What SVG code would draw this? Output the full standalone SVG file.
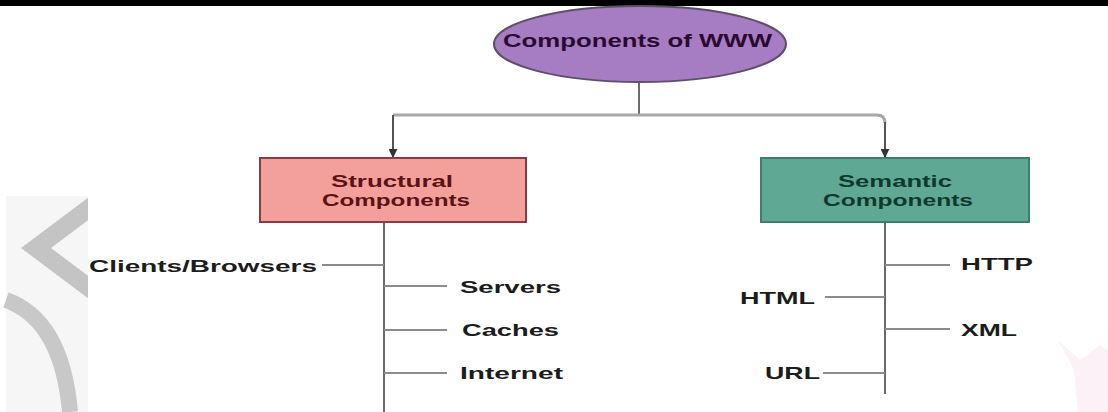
<svg xmlns="http://www.w3.org/2000/svg" width="1108" height="412" viewBox="0 0 1108 412">
<defs>
<style>
text{font-family:"Liberation Sans",Arial,sans-serif;font-weight:bold;}
.lbl{font-size:17px;fill:#1c1c1c;}
.box{font-size:16px;}
.trunk{stroke:#6a6a6a;stroke-width:2;fill:none;}
.br{stroke:#8c8c8c;stroke-width:2;fill:none;}
.top{stroke:#a8a8a8;stroke-width:3;fill:none;}
.arr{stroke:#555;stroke-width:2;fill:none;}
</style>
<marker id="ah" viewBox="0 0 10 10" refX="9" refY="5" markerWidth="9" markerHeight="9" markerUnits="userSpaceOnUse" orient="auto">
<path d="M0,0 L10,5 L0,10 Z" fill="#333"/>
</marker>
<clipPath id="wm"><rect x="0" y="190" width="88" height="222"/></clipPath>
</defs>
<rect x="0" y="0" width="1108" height="412" fill="#ffffff"/>
<g id="watermark">
<rect x="6" y="196" width="82" height="216" fill="#f6f6f6"/>
<g clip-path="url(#wm)">
<polyline points="100,200 36,248 100,296" fill="none" stroke="#c4c4c4" stroke-width="18"/>
<path d="M6,300 Q62,320 70,412" fill="none" stroke="#c8c8c8" stroke-width="16"/>
</g>
<path d="M1058,340 L1080,360 L1100,345 L1108,350 L1108,412 L1078,412 L1074,370 Z" fill="#fbf1f7"/>
</g>
<rect x="0" y="0" width="1108" height="6" fill="#000"/>
<g id="connectors">
<path class="trunk" d="M639,82 V115"/>
<path class="top" d="M639,115 H393"/>
<path class="top" d="M639,115 H877 Q885,115 885,123"/>
<path class="arr" d="M393,115 V157" marker-end="url(#ah)"/>
<path class="arr" d="M885,122 V157" marker-end="url(#ah)"/>
<path class="trunk" d="M384,222 V412"/>
<path class="br" d="M322,265 H384"/>
<path class="br" d="M384,286 H447"/>
<path class="br" d="M384,330 H447"/>
<path class="br" d="M384,373 H447"/>
<path class="trunk" d="M885,222 V394"/>
<path class="br" d="M885,265 H950"/>
<path class="br" d="M825,297 H885"/>
<path class="br" d="M885,329 H950"/>
<path class="br" d="M823,373 H885"/>
</g>
<g id="root">
<ellipse cx="640" cy="44" rx="146" ry="38" fill="#a67cc2" stroke="#5e5068" stroke-width="2"/>
<text x="503" y="47" font-size="19" fill="#2a0b30" textLength="269" lengthAdjust="spacingAndGlyphs">Components of WWW</text>
</g>
<g id="structural">
<rect x="260" y="158" width="266" height="64" fill="#f3a09c" stroke="#8a3c44" stroke-width="2"/>
<text class="box" x="331" y="187" fill="#5a1212" textLength="122" lengthAdjust="spacingAndGlyphs">Structural</text>
<text class="box" x="322" y="206" fill="#5a1212" textLength="148" lengthAdjust="spacingAndGlyphs">Components</text>
</g>
<g id="semantic">
<rect x="761" y="158" width="268" height="64" fill="#5fa894" stroke="#3f7e6e" stroke-width="2"/>
<text class="box" x="838" y="187" fill="#0e3a2e" textLength="114" lengthAdjust="spacingAndGlyphs">Semantic</text>
<text class="box" x="823" y="206" fill="#0e3a2e" textLength="150" lengthAdjust="spacingAndGlyphs">Components</text>
</g>
<g id="clients"><text class="lbl" x="89" y="272" textLength="228" lengthAdjust="spacingAndGlyphs">Clients/Browsers</text></g>
<g id="servers"><text class="lbl" x="460" y="293" textLength="101" lengthAdjust="spacingAndGlyphs">Servers</text></g>
<g id="caches"><text class="lbl" x="462" y="336" textLength="97" lengthAdjust="spacingAndGlyphs">Caches</text></g>
<g id="internet"><text class="lbl" x="460" y="379" textLength="103" lengthAdjust="spacingAndGlyphs">Internet</text></g>
<g id="http"><text class="lbl" x="961" y="270" textLength="72" lengthAdjust="spacingAndGlyphs">HTTP</text></g>
<g id="html"><text class="lbl" x="740" y="304" textLength="75" lengthAdjust="spacingAndGlyphs">HTML</text></g>
<g id="xml"><text class="lbl" x="961" y="336" textLength="56" lengthAdjust="spacingAndGlyphs">XML</text></g>
<g id="url"><text class="lbl" x="765" y="379" textLength="55" lengthAdjust="spacingAndGlyphs">URL</text></g>
</svg>
